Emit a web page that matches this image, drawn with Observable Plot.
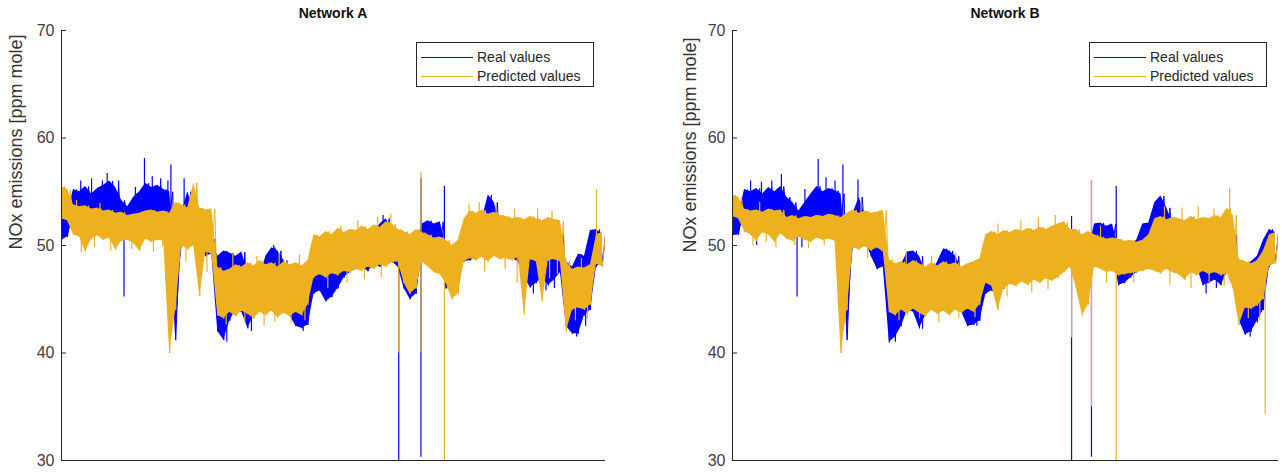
<!DOCTYPE html>
<html>
<head>
<meta charset="utf-8">
<script src="https://cdn.jsdelivr.net/npm/d3@7"></script>
<script src="https://cdn.jsdelivr.net/npm/@observablehq/plot@0.6"></script>
<style>
  html, body { margin: 0; padding: 0; background: #fff; }
  #wrap { position: relative; width: 1282px; height: 472px; overflow: hidden;
          font-family: "Liberation Sans", Arial, Helvetica, sans-serif; color: #262626; }
  .panel { position: absolute; top: 0; }
  .title { position: absolute; top: 5px; font-weight: bold; font-size: 14px; transform: translateX(-50%); white-space: nowrap; color: #111; }
  .ylab { position: absolute; font-size: 18px; white-space: nowrap; color: #333;
          transform: translate(-50%, -50%) rotate(-90deg); }
  .legend { position: absolute; border: 1px solid #262626; background: #fff; box-sizing: border-box; }
  .legend .row { position: absolute; left: 0; height: 18px; font-size: 14px; color: #262626; white-space: nowrap; }
  .legend svg { position: absolute; left: 4px; top: 8px; }
  .legend span { position: absolute; left: 60px; top: 0; line-height: 18px; }
</style>
</head>
<body>
<div id="wrap"></div>
<script>
// ---- data (bins along the time axis, values in ppm mole) ----
const yTicks = [30, 40, 50, 60, 70];
const seriesNames = ["Real values", "Predicted values"];
const titles = ["Network A", "Network B"];
const yLabel = "NOx emissions [ppm mole]";

const aRealLo = [50.5,50.8,52.6,52.4,52.8,52.5,52.7,52.3,52.6,52.2,
  51.5,51.8,52.4,52.6,52.8,52.5,52.7,52.6,52.6,41.2,
  50.5,50.3,50.5,49.5,49.0,49.2,42.0,41.2,43.0,44.0,
  43.8,42.3,43.5,44.0,43.8,44.2,44.0,44.2,43.5,42.5,
  42.3,42.6,45.5,45.8,44.8,45.2,46.0,47.0,47.5,47.8,
  48.0,47.6,48.2,48.0,48.5,48.5,48.0,46.0,45.0,45.5,
  49.0,50.0,50.2,50.0,46.0,46.2,47.0,48.5,48.6,48.8,
  49.0,49.5,49.5,49.0,49.0,48.8,48.5,47.0,46.1,46.5,
  47.0,46.3,46.8,47.5,42.5,41.8,41.8,43.5,44.0,48.0,48.5];
const aRealHi = [53.5,53.2,55.2,55.0,55.5,54.8,55.3,55.6,56.0,55.4,
  54.2,53.6,54.5,55.0,55.8,55.4,55.6,55.2,55.0,48.0,
  53.0,55.0,53.5,53.0,51.0,50.6,49.0,49.5,49.3,49.0,
  49.4,47.5,47.2,47.0,49.0,49.8,49.5,48.6,47.5,46.0,
  45.5,46.0,48.5,48.2,48.0,48.4,48.5,49.5,50.0,50.5,
  50.8,51.0,51.2,52.0,52.5,51.5,51.0,50.5,49.0,49.5,
  52.0,52.3,52.0,52.2,50.0,49.0,50.0,50.0,50.3,50.5,
  52.5,54.7,54.0,52.0,52.0,51.5,51.8,51.5,50.0,50.5,
  50.0,50.2,51.0,51.0,48.5,48.0,49.2,49.0,51.4,51.5,51.0];
const aPredLo = [52.5,52.3,51.0,50.8,49.4,50.6,50.9,50.5,50.7,49.6,
  50.4,50.5,50.2,49.5,50.6,50.3,50.5,50.4,40.0,44.0,
  50.0,49.6,50.0,45.3,49.4,49.2,43.5,43.2,43.8,43.4,
  43.9,43.6,43.2,43.8,43.5,43.9,43.3,43.7,43.4,43.8,
  43.5,44.5,47.0,47.3,47.0,47.4,47.2,47.6,47.5,47.8,
  47.6,48.0,47.8,48.2,48.0,48.4,48.5,46.5,45.5,46.0,
  48.5,48.0,47.5,47.3,46.5,45.0,45.5,48.5,48.8,48.6,
  48.9,48.5,49.0,48.7,48.8,48.6,48.9,43.6,48.7,48.5,
  44.8,48.6,48.7,48.5,42.0,44.0,44.2,44.0,44.5,48.3,48.0];
const aPredHi = [55.5,55.2,53.8,53.6,53.7,53.4,53.5,53.2,53.3,53.0,
  53.1,52.8,52.9,53.0,53.2,53.3,53.1,53.2,53.0,54.0,
  53.8,53.5,55.8,53.5,53.3,53.4,48.0,47.6,47.8,48.2,
  48.0,48.4,48.1,48.6,48.2,48.4,48.0,48.5,48.2,48.4,
  48.1,48.6,51.0,50.8,51.3,51.0,51.6,51.2,51.5,51.4,
  51.8,51.5,51.9,51.7,52.2,52.0,51.5,51.3,51.0,51.5,
  51.2,51.0,50.7,50.8,50.5,50.0,50.5,52.5,53.2,53.0,
  53.3,52.9,53.1,52.8,52.7,52.5,52.6,52.4,52.7,52.5,
  52.3,52.6,52.4,52.3,48.5,47.8,48.0,47.9,48.2,51.0,51.2];
// isolated spikes: [bin, from, to]
const aRealSpikes = [[7.6,53,56.7],[10.4,45.2,52],[13.8,53,58.1],[18.2,50,57.5],[20.4,52,56.2],
  [56.1,30,48],[59.8,30.3,56.2],[63.7,49,55.5],
  [3.2,54,56.0],[5.0,54,56.2],[6.8,54,56.0],[9.5,54,56.0],[12.3,54,55.4],[15.1,54,56.4],[16.5,54,56.2],[17.7,54,56.0],
  [4.2,50.0,52],[17.1,50.2,52],[27.5,41.0,45],[31.6,42.0,45],[40.2,42.0,45],[35.3,47,50.0],
  [53.5,50,52.8],[78.5,45.5,48],[80.6,45.8,48],[82.0,46.0,48],[85.7,41.5,45],[87.2,42.5,46]];
const aPredSpikes = [[22.5,52,55.8],[56.1,40,49],[59.8,40,56.8],[63.7,30,49],[89.0,49,55.2],
  [3.3,49.3,52],[5.5,49.8,52],[8.2,49.5,52],[11.7,49.6,52],[15.3,49.4,52],[16.8,49.9,52],[2.5,52,54.2],[6.4,52,53.9],
  [20.7,48.5,51],[24.2,47.5,51],[21.5,52,54.5],
  [27.4,42.6,45],[30.5,42.8,45],[33.7,42.5,45],[35.5,42.9,45],[38.2,42.7,45],[40.5,43.0,45],
  [28.5,47,49.2],[32.5,47,49.0],[36.2,47,49.3],[39.6,47,49.1],
  [46.4,50,51.8],[49.3,50,52.3],[52.6,50,52.6],[54.8,50,52.9],[44.3,46.0,48],[47.5,46.5,48],[50.4,46.8,48],[53.2,47.0,49],
  [67.8,51,53.8],[69.5,51,54.0],[72.3,51,53.8],[75.4,51,53.4],[79.2,51,53.4],[81.6,51,53.2],
  [70.4,47.5,50],[73.8,47.8,50],[75.8,46.5,50],[81.2,46.9,50],[82.5,47.3,50],
  [85.5,43.0,46],[87.5,43.2,46],[86.5,46,48.8]];

const bRealLo = [50.9,51.0,53.0,52.8,53.2,52.9,53.1,52.8,53.0,52.6,
  52.4,51.0,52.2,52.5,52.8,52.6,52.8,52.6,52.5,41.2,
  50.5,50.3,50.5,49.0,47.8,48.0,41.0,41.5,42.5,44.0,
  43.8,42.3,43.5,44.0,43.8,44.2,44.0,44.2,43.8,42.5,
  42.6,43.0,45.5,45.8,45.4,46.0,46.5,47.0,47.5,47.8,
  48.0,47.8,48.2,48.0,48.5,48.5,48.0,47.0,45.0,45.5,
  49.5,50.0,50.2,50.0,46.3,46.5,47.0,47.5,48.5,49.0,
  49.5,49.5,49.0,48.8,48.5,48.5,48.2,48.0,46.3,46.5,
  46.8,46.3,47.5,47.0,43.0,41.7,42.0,43.0,44.0,48.0,48.5];
const bRealHi = [52.7,52.8,55.2,55.0,55.3,54.8,55.4,55.0,55.5,54.5,
  54.0,53.2,54.0,54.8,55.5,55.0,55.3,55.1,54.8,48.0,
  53.0,54.5,52.8,52.0,50.5,50.2,48.5,48.0,48.2,49.4,
  49.5,49.0,47.5,47.5,48.5,49.7,49.5,49.0,47.8,46.0,
  45.5,46.5,48.5,48.2,48.0,48.4,48.8,49.5,50.0,50.5,
  50.8,51.0,51.2,51.5,52.0,51.8,51.0,50.5,49.0,49.5,
  52.0,52.1,51.8,52.0,49.5,49.0,50.0,50.5,52.0,52.1,
  54.0,54.6,53.5,52.0,52.0,51.5,51.8,51.5,50.5,50.0,
  50.2,50.0,51.0,51.0,48.5,48.0,48.5,49.0,50.5,51.5,51.2];
const bPredLo = [52.7,52.5,51.3,51.0,50.4,51.2,51.0,50.3,51.1,50.6,
  50.4,50.8,50.5,50.3,50.7,50.5,50.6,50.4,40.0,44.0,
  49.8,49.6,49.9,49.5,49.8,49.4,43.8,43.5,44.0,43.6,
  44.1,43.7,43.4,44.0,43.6,43.9,43.5,44.0,43.7,44.1,
  43.8,44.5,46.5,46.2,44.0,46.0,46.4,46.2,46.6,46.3,
  46.8,46.5,46.9,46.7,47.0,47.5,48.0,46.0,43.5,44.5,
  48.0,47.8,47.5,47.6,47.2,47.3,47.4,47.5,47.6,47.8,
  47.6,47.4,47.8,47.5,47.3,46.8,47.5,47.2,47.6,47.3,
  47.5,47.2,47.4,46.0,42.6,44.2,44.1,44.4,45.0,48.1,48.3];
const bPredHi = [54.7,54.5,53.4,53.2,53.3,53.1,53.4,53.2,53.3,52.6,
  52.8,52.5,52.7,52.6,52.8,52.7,52.9,52.8,52.6,53.0,
  53.3,53.0,53.2,53.0,53.1,53.3,48.7,48.3,48.5,48.2,
  48.6,48.3,48.0,48.4,48.1,48.5,48.2,48.4,48.0,48.3,
  48.5,48.8,51.0,51.3,51.0,51.4,51.2,51.5,51.3,51.6,
  51.4,51.7,51.5,51.8,52.0,52.2,51.5,51.5,51.0,51.3,
  51.0,50.8,50.6,50.7,50.6,50.4,50.5,50.3,50.5,51.0,
  52.5,52.7,52.4,52.6,52.5,52.3,52.7,52.4,52.6,52.5,
  52.8,52.6,53.5,52.8,48.7,48.5,48.3,48.6,49.5,51.0,51.2];
const bRealSpikes = [[8.1,53,56.6],[10.7,45.2,52],[14.2,53,58.0],[18.3,50,57.5],[20.8,52,56.1],
  [56.2,30,52.7],[59.5,30.3,56.0],[63.6,49,55.5],
  [3.0,54,56.0],[4.8,54,55.9],[6.5,54,56.0],[12.0,53,55.2],[15.5,54,56.3],[17.0,54,56.0],
  [4.0,50.0,52],[11.5,49.8,52],[27.0,41.0,45],[31.5,42.2,45],[40.5,42.5,45],
  [78.5,45.5,48],[80.2,46.0,48],[85.8,41.5,45],[87.0,42.8,46]];
const bPredSpikes = [[56.2,41.4,49],[59.5,35,56.1],[63.6,30,49],[82.4,50,55.3],[88.3,34.3,48],
  [3.4,50.0,52],[5.6,50.3,52],[7.2,49.8,52],[4.5,52,54.0],
  [10.3,50.0,52],[12.6,49.7,52],[15.2,50.0,52],[17.3,49.8,52],
  [21.3,52,54.0],[22.4,48.8,51],
  [27.6,43.0,45],[31.0,43.2,45],[34.2,42.8,45],[37.5,43.2,45],[40.2,43.3,45],
  [28.8,47,49.2],[33.0,47,49.0],[37.0,47,49.3],
  [44.0,50,52.0],[47.8,50,52.3],[50.7,50,52.6],[53.5,50,52.8],[45.5,45.2,48],[49.6,45.6,48],[52.3,45.9,48],
  [62.0,46.5,49],[66.5,46.5,49],[61.0,50,51.8],
  [71.6,51,53.6],[74.5,51,53.5],[77.2,51,53.6],[79.8,51,53.4],
  [72.5,46.3,49],[76.0,46.0,49],[79.0,46.5,49],[81.5,46.2,49],
  [85.5,43.2,46],[87.4,43.0,46]];

// ---- drawing ----
const BLUE = "#0000ff", ORANGE = "#edb120";
const wrap = document.getElementById("wrap");

function makePanel(cfg) {
  const n = cfg.realLo.length;
  const bins = d3.range(n).map(i => ({i, rlo: cfg.realLo[i], rhi: cfg.realHi[i], plo: cfg.predLo[i], phi: cfg.predHi[i]}));
  const zig = (lo, hi) => lo.flatMap((v, i) => [{x: i, y: v}, {x: i + 0.5, y: hi[i]}]);
  const spk = s => s.map(([x, y1, y2]) => ({x, y1, y2}));
  const plot = Plot.plot({
    width: cfg.width, height: 472,
    marginTop: 30, marginBottom: 12, marginLeft: cfg.marginLeft, marginRight: cfg.marginRight,
    style: {fontFamily: "Liberation Sans, Arial, sans-serif", fontSize: "16px", color: "#404040", background: "transparent", overflow: "visible"},
    x: {domain: [0, n - 0.5], axis: null},
    y: {domain: [30, 70], axis: null},
    marks: [
      Plot.areaY(bins, {x: "i", y1: "rlo", y2: "rhi", fill: BLUE, clip: true}),
      Plot.line(zig(cfg.realLo, cfg.realHi), {x: "x", y: "y", stroke: BLUE, strokeWidth: 1, clip: true}),
      Plot.ruleX(spk(cfg.realSpikes), {x: "x", y1: "y1", y2: "y2", stroke: BLUE, strokeWidth: 1.2, clip: true}),
      Plot.areaY(bins, {x: "i", y1: "plo", y2: "phi", fill: ORANGE, clip: true}),
      Plot.line(zig(cfg.predLo, cfg.predHi), {x: "x", y: "y", stroke: ORANGE, strokeWidth: 1, clip: true}),
      Plot.ruleX(spk(cfg.predSpikes), {x: "x", y1: "y1", y2: "y2", stroke: ORANGE, strokeWidth: 1.2, clip: true}),
      Plot.axisY({ticks: yTicks, tickSize: -5, tickPadding: 12, label: null, tickFormat: d => String(d), stroke: "#262626"}),
      Plot.ruleX([0], {stroke: "#262626"}),
      Plot.ruleY([30], {stroke: "#262626"})
    ]
  });
  const holder = document.createElement("div");
  holder.className = "panel";
  holder.style.left = cfg.left + "px";
  holder.appendChild(plot);
  wrap.appendChild(holder);

  const t = document.createElement("div");
  t.className = "title";
  t.textContent = cfg.title;
  t.style.left = cfg.titleX + "px";
  wrap.appendChild(t);

  const yl = document.createElement("div");
  yl.className = "ylab";
  yl.textContent = yLabel;
  yl.style.left = cfg.ylabX + "px";
  yl.style.top = cfg.ylabY + "px";
  wrap.appendChild(yl);

  const lg = document.createElement("div");
  lg.className = "legend";
  lg.style.left = cfg.legendX + "px";
  lg.style.top = "42px";
  lg.style.width = "178px";
  lg.style.height = "45px";
  [[seriesNames[0], BLUE, 5], [seriesNames[1], ORANGE, 24]].forEach(([name, col, top]) => {
    const row = document.createElement("div");
    row.className = "row";
    row.style.top = top + "px";
    row.style.width = "176px";
    row.innerHTML = `<svg width="52" height="3"><line x1="0" x2="52" y1="1.5" y2="1.5" stroke="${col}" stroke-width="1"/></svg><span>${name}</span>`;
    lg.appendChild(row);
  });
  wrap.appendChild(lg);
}

makePanel({title: titles[0], left: 0, width: 640, marginLeft: 61, marginRight: 35, titleX: 333, ylabX: 16, ylabY: 142, legendX: 416,
  realLo: aRealLo, realHi: aRealHi, predLo: aPredLo, predHi: aPredHi, realSpikes: aRealSpikes, predSpikes: aPredSpikes});
makePanel({title: titles[1], left: 640, width: 642, marginLeft: 92, marginRight: 4, titleX: 1005, ylabX: 690, ylabY: 145, legendX: 1089,
  realLo: bRealLo, realHi: bRealHi, predLo: bPredLo, predHi: bPredHi, realSpikes: bRealSpikes, predSpikes: bPredSpikes});
</script>
</body>
</html>
